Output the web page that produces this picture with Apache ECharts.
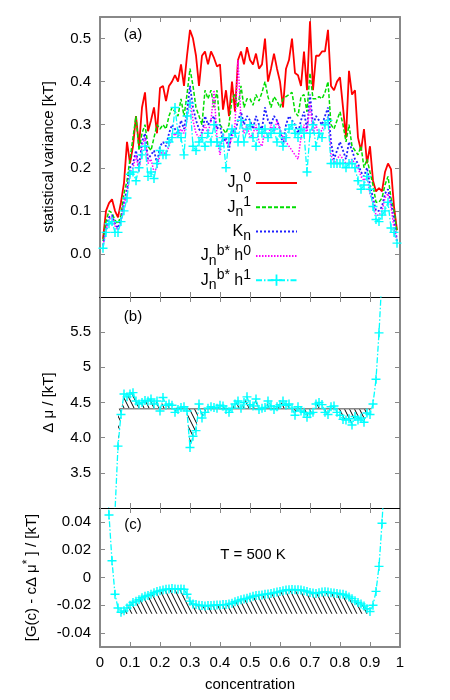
<!DOCTYPE html>
<html><head><meta charset="utf-8">
<script src="https://cdn.jsdelivr.net/npm/echarts@6/dist/echarts.min.js"></script>
<style>html,body{margin:0;padding:0;background:#fff}#c{width:450px;height:700px}</style>
</head><body><div id="c"></div>
<script>
// ---------- data ----------
// concentration grid of panel (a): 0.01 .. 0.99
const concStepA = 0.01, concStartA = 0.01, concCountA = 99;
const varJ0 = [.035,.10,.118,.127,.10,.085,.12,.165,.26,.21,
  .25,.32,.25,.34,.375,.285,.31,.34,.28,.385,
  .39,.355,.39,.40,.415,.40,.44,.39,.46,.52,
  .50,.46,.39,.46,.47,.44,.47,.455,.435,.44,
  .335,.38,.32,.40,.33,.45,.47,.44,.48,.45,
  .44,.465,.43,.44,.50,.40,.43,.465,.43,.40,
  .34,.43,.45,.50,.42,.415,.39,.47,.38,.54,
  .38,.46,.46,.47,.47,.52,.39,.38,.40,.41,
  .34,.27,.425,.37,.38,.27,.24,.29,.21,.25,
  .17,.145,.153,.145,.19,.21,.197,.11,.055];
const varJ1 = [.03,.075,.10,.095,.078,.07,.09,.14,.17,.22,
  .27,.32,.24,.28,.30,.25,.24,.27,.30,.29,
  .30,.29,.32,.34,.33,.32,.36,.32,.37,.43,
  .39,.34,.32,.30,.38,.36,.38,.34,.38,.30,
  .29,.28,.30,.36,.37,.34,.39,.34,.36,.36,
  .345,.37,.355,.375,.40,.365,.34,.365,.355,.34,
  .36,.365,.37,.375,.33,.32,.365,.37,.33,.42,
  .36,.36,.365,.36,.375,.40,.30,.29,.31,.33,
  .30,.26,.30,.25,.24,.23,.25,.20,.22,.19,
  .16,.12,.12,.13,.16,.18,.13,.10,.05];
const varK = [.02,.06,.085,.09,.07,.06,.08,.12,.15,.20,
  .21,.24,.20,.26,.28,.22,.23,.24,.21,.25,
  .26,.25,.28,.30,.29,.28,.31,.29,.33,.39,
  .34,.31,.29,.28,.32,.30,.31,.32,.29,.30,
  .26,.27,.24,.29,.28,.31,.33,.30,.32,.31,
  .29,.32,.30,.29,.34,.31,.30,.32,.31,.29,
  .25,.30,.32,.31,.30,.28,.31,.33,.29,.37,
  .30,.32,.31,.30,.32,.34,.26,.22,.24,.26,
  .24,.22,.26,.24,.22,.21,.19,.18,.20,.16,
  .13,.10,.10,.11,.14,.15,.12,.08,.03];
const varJbh0 = [.02,.055,.08,.085,.065,.055,.075,.115,.14,.19,
  .20,.23,.19,.25,.27,.21,.22,.19,.20,.23,
  .24,.23,.25,.27,.28,.27,.29,.28,.31,.36,
  .31,.28,.27,.28,.30,.28,.31,.38,.27,.23,
  .28,.26,.25,.27,.30,.45,.31,.28,.30,.27,
  .28,.30,.26,.25,.29,.27,.30,.28,.31,.29,
  .27,.26,.25,.24,.23,.22,.27,.30,.28,.35,
  .28,.30,.27,.29,.30,.32,.23,.21,.22,.23,
  .22,.21,.21,.22,.21,.20,.18,.17,.18,.14,
  .12,.09,.09,.10,.13,.14,.11,.06,.03];
const varJbh1 = [.013,.05,.07,.075,.05,.05,.075,.10,.13,.185,
  .19,.17,.20,.23,.25,.18,.19,.175,.21,.24,
  .23,.23,.26,.27,.34,.28,.27,.23,.32,.35,
  .25,.24,.26,.27,.25,.28,.26,.30,.26,.25,
  .27,.20,.27,.29,.28,.26,.31,.26,.29,.30,
  .27,.25,.29,.28,.29,.27,.28,.29,.26,.28,
  .25,.27,.29,.30,.28,.27,.29,.28,.19,.28,
  .30,.25,.28,.27,.30,.31,.21,.21,.21,.21,
  .21,.20,.21,.21,.20,.17,.15,.16,.18,.15,
  .11,.08,.075,.09,.10,.12,.06,.05,.025];

// panel (b): delta mu, concentration 0.04 .. 0.94
const muStart = 0.04;
const deltaMu = [2.2,2.95,3.88,4.33,4.62,4.58,4.62,4.64,4.52,4.48,
  4.50,4.53,4.52,4.55,4.48,4.52,4.38,4.57,4.46,4.48,
  4.46,4.36,4.40,4.43,4.44,4.38,3.86,4.02,4.10,4.48,
  4.28,4.36,4.42,4.44,4.43,4.42,4.46,4.45,4.40,4.36,
  4.42,4.48,4.52,4.42,4.50,4.58,4.47,4.45,4.55,4.40,
  4.42,4.43,4.52,4.45,4.40,4.44,4.47,4.52,4.46,4.48,
  4.42,4.32,4.44,4.38,4.36,4.29,4.34,4.36,4.48,4.50,
  4.47,4.36,4.33,4.44,4.45,4.36,4.32,4.26,4.25,4.27,
  4.18,4.30,4.25,4.28,4.22,4.35,4.33,4.48,4.83,5.49,
  6.3];
const muStar = 4.41;                 // common tangent level
const muStarRange = [0.065, 0.905];  // extent of the level line
const muHatchRange = [0.06, 0.90];

// panel (c): G(c) - c*dmu*, concentration 0.02 .. 0.95
const gStart = 0.02;
const gDiff = [0.09,0.045,0.012,-0.012,-0.022,-0.025,-0.024,-0.022,-0.020,-0.018,
  -0.017,-0.016,-0.0145,-0.0135,-0.013,-0.012,-0.011,-0.010,-0.0095,-0.009,
  -0.0085,-0.0082,-0.008,-0.0082,-0.0085,-0.0082,-0.0085,-0.012,-0.017,-0.019,
  -0.0195,-0.020,-0.0202,-0.0205,-0.0202,-0.0202,-0.020,-0.0198,-0.0198,-0.0195,
  -0.0195,-0.019,-0.0185,-0.0175,-0.0168,-0.016,-0.0155,-0.015,-0.0142,-0.0135,
  -0.013,-0.0128,-0.0125,-0.012,-0.0118,-0.0115,-0.011,-0.0105,-0.010,-0.0095,
  -0.009,-0.0088,-0.0087,-0.0088,-0.0088,-0.009,-0.0095,-0.010,-0.0108,-0.0112,
  -0.0115,-0.011,-0.0105,-0.0102,-0.0105,-0.011,-0.0112,-0.0115,-0.0118,-0.012,
  -0.0128,-0.014,-0.0152,-0.0168,-0.018,-0.019,-0.0205,-0.0225,-0.0245,-0.020,
  -0.010,0.008,0.039,0.08];
const gHatchBase = -0.026;
const gHatchRange = [0.07, 0.90];

// ticks
const xTickLabels = ['0','0.1','0.2','0.3','0.4','0.5','0.6','0.7','0.8','0.9','1'];
const aTickValues = [0,0.1,0.2,0.3,0.4,0.5];
const aTickLabels = ['0.0','0.1','0.2','0.3','0.4','0.5'];
const bTickValues = [3.5,4,4.5,5,5.5];
const bTickLabels = ['3.5','4.0','4.5','5','5.5'];
const cTickValues = [-0.04,-0.02,0,0.02,0.04];
const cTickLabels = ['-0.04','-0.02','0','0.02','0.04'];

const seriesNames = ['J0','J1','K','Jbh0','Jbh1'];
const legendLabels = {
  J0: '{m|J}{sb|n}{sp|0}',
  J1: '{m|J}{sb|n}{sp|1}',
  K: '{m|K}{sb|n}',
  Jbh0: '{m|J}{sb|n}{sp|b*}{m| h}{sp|0}',
  Jbh1: '{m|J}{sb|n}{sp|b*}{m| h}{sp|1}'
};

// ---------- helpers ----------
const FONT = '"Liberation Sans", Arial, Helvetica, sans-serif';
const r2 = v => Math.round(v * 100) / 100;
const pairs = (start, vals) => vals.map((v, i) => [r2(start + i * concStepA), v]);
const within = (arr, range) => arr.filter(p => p[0] >= range[0] - 1e-9 && p[0] <= range[1] + 1e-9);
const labelFrom = (vals, labels) => v => {
  const i = vals.findIndex(t => Math.abs(t - v) < 1e-9);
  return i < 0 ? '' : labels[i];
};

function hatchCanvas() {
  const w = 5, h = 10;
  const cv = document.createElement('canvas');
  cv.width = w; cv.height = h;
  const g = cv.getContext('2d');
  g.strokeStyle = '#000'; g.lineWidth = 1;
  g.beginPath();
  [-w, 0, w].forEach(dx => { g.moveTo(dx, 0); g.lineTo(dx + w, h); });
  g.stroke();
  return cv;
}
const HATCH = { image: hatchCanvas(), repeat: 'repeat' };
const PLUS = 'path://M4.2,0H5.8V4.2H10V5.8H5.8V10H4.2V5.8H0V4.2H4.2Z';
const CYAN = '#00ffff';

const GRAY = '#888888';
const tick = { show: true, inside: true, length: 5, lineStyle: { color: GRAY, width: 1 } };
function xAx(gridIndex, position, color, width, showLabels) {
  return {
    type: 'value', gridIndex, position, min: 0, max: 1, interval: 0.1,
    axisLine: { show: true, onZero: false, lineStyle: { color, width } },
    axisTick: tick, splitLine: { show: false },
    axisLabel: showLabels ? {
      show: true, margin: 8, color: '#000', fontFamily: FONT, fontSize: 15,
      formatter: v => xTickLabels[Math.round(v * 10)]
    } : { show: false }
  };
}
function yAx(gridIndex, position, min, max, vals, labels, showLabels, extra) {
  return Object.assign({
    type: 'value', gridIndex, position, min, max,
    axisLine: { show: true, onZero: false, lineStyle: { color: GRAY, width: 2 } },
    axisTick: Object.assign({ customValues: vals }, tick),
    splitLine: { show: false },
    axisLabel: showLabels ? {
      show: true, margin: 9, color: '#000', fontFamily: FONT, fontSize: 15,
      customValues: vals, formatter: labelFrom(vals, labels)
    } : { show: false, customValues: vals }
  }, extra || {});
}

const concA = Array.from({ length: concCountA }, (_, i) => r2(concStartA + i * concStepA));
const ptsA = vals => vals.map((v, i) => [concA[i], v]);

const muPts = pairs(muStart, deltaMu);
const gPts = pairs(gStart, gDiff);

const series = [
  { type: 'line', name: 'J0', xAxisIndex: 0, yAxisIndex: 0, data: ptsA(varJ0), symbol: 'none',
    lineStyle: { color: '#ff0000', width: 1.8 }, itemStyle: { color: '#ff0000' } },
  { type: 'line', name: 'J1', xAxisIndex: 0, yAxisIndex: 0, data: ptsA(varJ1), symbol: 'none',
    lineStyle: { color: '#00dd00', width: 1.5, type: [4, 2] }, itemStyle: { color: '#00dd00' } },
  { type: 'line', name: 'K', xAxisIndex: 0, yAxisIndex: 0, data: ptsA(varK), symbol: 'none',
    lineStyle: { color: '#2020ff', width: 1.8, type: [2, 2] }, itemStyle: { color: '#2020ff' } },
  { type: 'line', name: 'Jbh0', xAxisIndex: 0, yAxisIndex: 0, data: ptsA(varJbh0), symbol: 'none',
    lineStyle: { color: '#ff00ff', width: 1.5, type: [1.5, 1.5] }, itemStyle: { color: '#ff00ff' } },
  { type: 'line', name: 'Jbh1', xAxisIndex: 0, yAxisIndex: 0, data: ptsA(varJbh1),
    symbol: PLUS, symbolSize: 9, showSymbol: true, showAllSymbol: true,
    lineStyle: { color: CYAN, width: 1.3, type: [6, 2, 1.5, 2] }, itemStyle: { color: CYAN } },

  // panel (b)
  { type: 'line', name: 'muHatch', xAxisIndex: 2, yAxisIndex: 2, data: within(muPts, muHatchRange),
    symbol: 'none', lineStyle: { width: 0 }, areaStyle: { origin: muStar, color: HATCH, opacity: 1 }, z: 1 },
  { type: 'line', name: 'muStar', xAxisIndex: 2, yAxisIndex: 2,
    data: muStarRange.map(c => [c, muStar]), symbol: 'none',
    lineStyle: { color: '#888888', width: 1.5 }, z: 2 },
  { type: 'line', name: 'mu', xAxisIndex: 2, yAxisIndex: 2, data: muPts,
    symbol: PLUS, symbolSize: 9, showSymbol: true, showAllSymbol: true,
    lineStyle: { color: CYAN, width: 1.3, type: [6, 2, 1.5, 2] }, itemStyle: { color: CYAN }, z: 3 },

  // panel (c)
  { type: 'line', name: 'gHatch', xAxisIndex: 4, yAxisIndex: 4, data: within(gPts, gHatchRange),
    symbol: 'none', lineStyle: { width: 0 }, areaStyle: { origin: gHatchBase, color: HATCH, opacity: 1 }, z: 1 },
  { type: 'line', name: 'g', xAxisIndex: 4, yAxisIndex: 4, data: gPts,
    symbol: PLUS, symbolSize: 9, showSymbol: true, showAllSymbol: true,
    lineStyle: { color: CYAN, width: 1.3, type: [6, 2, 1.5, 2] }, itemStyle: { color: CYAN }, z: 3 }
];

const HIDDEN_SYMBOL = { color: 'rgba(0,0,0,0)', borderWidth: 0, opacity: 0 };

const option = {
  animation: false,
  backgroundColor: '#ffffff',
  textStyle: { fontFamily: FONT },
  grid: [
    { left: 100, top: 17, width: 300, height: 280 },
    { left: 100, top: 297, width: 300, height: 211 },
    { left: 100, top: 508, width: 300, height: 139 }
  ],
  xAxis: [
    xAx(0, 'bottom', '#000', 1, false),
    xAx(0, 'top', GRAY, 2, false),
    xAx(1, 'bottom', '#000', 1, false),
    xAx(1, 'top', '#000', 1, false),
    Object.assign(xAx(2, 'bottom', GRAY, 2, true), {
      name: 'concentration', nameLocation: 'middle', nameGap: 30,
      nameTextStyle: { color: '#000', fontFamily: FONT, fontSize: 15 }
    }),
    xAx(2, 'top', '#000', 1, false)
  ],
  yAxis: [
    yAx(0, 'left', -0.1, 0.55, aTickValues, aTickLabels, true, {
      name: 'statistical variance [kT]', nameLocation: 'middle', nameGap: 44,
      nameTextStyle: { color: '#000', fontFamily: FONT, fontSize: 15 }
    }),
    yAx(0, 'right', -0.1, 0.55, aTickValues, aTickLabels, false),
    yAx(1, 'left', 3, 6, bTickValues, bTickLabels, true, {
      name: 'Δ μ / [kT]', nameLocation: 'middle', nameGap: 44,
      nameTextStyle: { color: '#000', fontFamily: FONT, fontSize: 15 }
    }),
    yAx(1, 'right', 3, 6, bTickValues, bTickLabels, false),
    yAx(2, 'left', -0.05, 0.05, cTickValues, cTickLabels, true, {
      name: '{n|[G(c) - cΔ μ}{s|*}{n| ] / [kT]}', nameLocation: 'middle', nameGap: 58,
      nameTextStyle: { color: '#000', fontFamily: FONT, fontSize: 15,
        rich: { n: { fontFamily: FONT, fontSize: 15, lineHeight: 20, color: '#000' },
                s: { fontFamily: FONT, fontSize: 12, lineHeight: 10, verticalAlign: 'top', color: '#000' } } }
    }),
    yAx(2, 'right', -0.05, 0.05, cTickValues, cTickLabels, false)
  ],
  legend: {
    orient: 'vertical', right: 152, top: 171, align: 'right', padding: 0,
    itemWidth: 41, itemHeight: 14, itemGap: 0.3, selectedMode: false,
    data: seriesNames.map(n => n === 'Jbh1' ? { name: n } : { name: n, itemStyle: HIDDEN_SYMBOL }),
    formatter: name => legendLabels[name],
    textStyle: {
      color: '#000', fontFamily: FONT, fontSize: 16, lineHeight: 24,
      rich: {
        m: { fontFamily: FONT, fontSize: 16, lineHeight: 24, color: '#000' },
        sb: { fontFamily: FONT, fontSize: 14, lineHeight: 16, verticalAlign: 'bottom', color: '#000' },
        sp: { fontFamily: FONT, fontSize: 14, lineHeight: 12, verticalAlign: 'top', color: '#000' }
      }
    }
  },
  graphic: [
    { type: 'text', x: 133, y: 35, style: { text: '(a)', font: '15px ' + FONT, fill: '#000', align: 'center', verticalAlign: 'middle' } },
    { type: 'text', x: 133, y: 317, style: { text: '(b)', font: '15px ' + FONT, fill: '#000', align: 'center', verticalAlign: 'middle' } },
    { type: 'text', x: 133, y: 525, style: { text: '(c)', font: '15px ' + FONT, fill: '#000', align: 'center', verticalAlign: 'middle' } },
    { type: 'text', x: 253, y: 555, style: { text: 'T = 500 K', font: '15px ' + FONT, fill: '#000', align: 'center', verticalAlign: 'middle' } }
  ],
  series
};
const chart = echarts.init(document.getElementById('c'), null, { renderer: 'canvas' });
chart.setOption(option);
</script>
</body></html>
